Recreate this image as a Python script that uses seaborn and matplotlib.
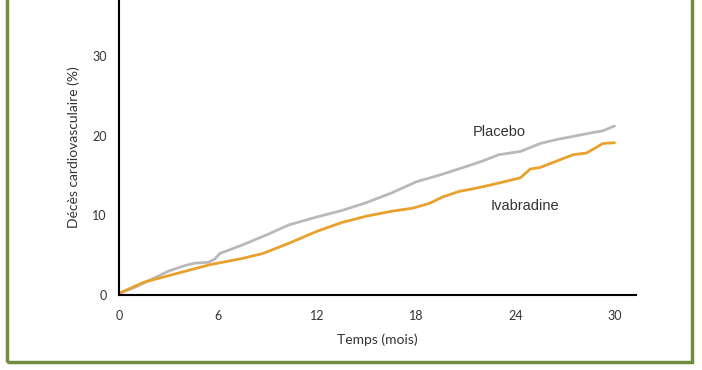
import matplotlib
matplotlib.use("Agg")
import pandas as pd
import seaborn as sns
import matplotlib.pyplot as plt
from matplotlib.patches import Rectangle

sns.set_style("white")
plt.rcParams['font.family'] = ['Lato', 'DejaVu Sans']

# courbes (mois, % de décès cardiovasculaire)
mois_placebo = [0, 1, 2, 3, 4, 4.6, 5.4, 5.8, 6.1, 7.5, 9, 10.3, 12, 13.5, 15, 16.5,
                18, 19.5, 21, 22, 23, 24.3, 25.5, 26.5, 27.5, 28.5, 29.3, 30]
placebo = [0.2, 1.0, 2.0, 3.0, 3.7, 4.0, 4.1, 4.5, 5.2, 6.3, 7.6, 8.8, 9.8, 10.6, 11.6, 12.8,
           14.2, 15.1, 16.1, 16.8, 17.6, 18.0, 19.0, 19.5, 19.9, 20.3, 20.6, 21.2]

mois_ivabradine = [0, 1.5, 3.5, 5.5, 7.5, 8.7, 10.3, 12, 13.5, 15, 16.5, 17.8, 18.8, 19.6,
                   20.6, 21.4, 22.5, 23.5, 24.3, 24.9, 25.5, 26.5, 27.5, 28.3, 29.3, 30]
ivabradine = [0.2, 1.6, 2.7, 3.8, 4.6, 5.2, 6.5, 8.0, 9.1, 9.9, 10.5, 10.9, 11.5, 12.3,
              13.0, 13.3, 13.8, 14.3, 14.7, 15.8, 16.0, 16.8, 17.6, 17.8, 19.0, 19.1]

x_ticks = [0, 6, 12, 18, 24, 30]
y_ticks = [0, 10, 20, 30]

df = pd.concat([
    pd.DataFrame({'mois': mois_placebo, 'deces': placebo, 'groupe': 'Placebo'}),
    pd.DataFrame({'mois': mois_ivabradine, 'deces': ivabradine, 'groupe': 'Ivabradine'}),
])

fig = plt.figure(figsize=(7.02, 3.70), dpi=100)
ax = fig.add_axes([119 / 702, 75 / 370, 517 / 702, 295 / 370])

sns.lineplot(data=df, x='mois', y='deces', hue='groupe', estimator=None, sort=False,
             palette={'Placebo': '#b9b9bd', 'Ivabradine': '#e9a02c'},
             linewidth=2, legend=False, ax=ax)

ax.set_xlim(0, 31.3)
ax.set_ylim(0, 37)
ax.set_xticks(x_ticks)
ax.set_yticks(y_ticks)
ax.tick_params(axis='both', direction='out', length=5, width=1.3, color='black',
               labelsize=9, labelcolor='#333333', pad=4)
ax.tick_params(axis='x', pad=6)
sns.despine(ax=ax)
for s in ['left', 'bottom']:
    ax.spines[s].set_linewidth(1.5)
    ax.spines[s].set_color('black')

ax.set_xlabel('Temps (mois)', fontsize=10, color='#333333', labelpad=8)
ax.set_ylabel('Décès cardiovasculaire (%)', fontsize=10, color='#333333', labelpad=9)

ax.text(23, 20.4, 'Placebo', fontsize=10.5, color='#333333', ha='center', va='center',
        family=['Liberation Sans', 'DejaVu Sans'])
ax.text(24.6, 11.1, 'Ivabradine', fontsize=10.5, color='#333333', ha='center', va='center',
        family=['Liberation Sans', 'DejaVu Sans'])

# cadre vert (le haut est coupé)
fig.patches.append(Rectangle((7 / 702, 8 / 370), 685 / 702, 1.1, transform=fig.transFigure,
                             fill=False, edgecolor='#6f8d3f', linewidth=2.5, clip_on=False))

fig.savefig('out.png', dpi=100)
